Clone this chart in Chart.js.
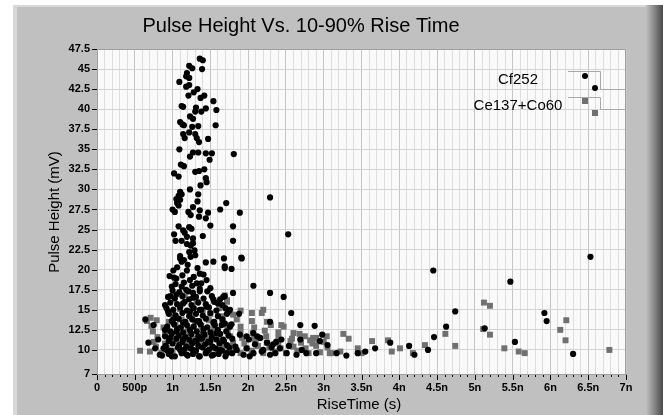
<!DOCTYPE html>
<html>
<head>
<meta charset="UTF-8">
<script src="https://cdn.jsdelivr.net/npm/chart.js"></script>
<style>
    html, body { margin: 0; padding: 0; background: #fff; }
    #wrap { width: 663px; height: 415px; }
</style>
</head>
<body>
<div id="wrap"><canvas id="riseChart" width="663" height="415"></canvas></div>
<script>
// series names, axis text
const seriesNames = ['Cf252', 'Ce137+Co60'];
const chartTitle = 'Pulse Height Vs. 10-90% Rise Time';
const xTitle = 'RiseTime (s)';
const yTitle = 'Pulse Height (mV)';

// tick values / labels (x in ns)
const yTicks = [7, 10, 12.5, 15, 17.5, 20, 22.5, 25, 27.5, 30, 32.5, 35, 37.5, 40, 42.5, 45, 47.5];
const xMajor = [0, 0.5, 1, 1.5, 2, 2.5, 3, 3.5, 4, 4.5, 5, 5.5, 6, 6.5, 7];
const xLabels = ['0', '500p', '1n', '1.5n', '2n', '2.5n', '3n', '3.5n', '4n', '4.5n', '5n', '5.5n', '6n', '6.5n', '7n'];

// Cf252 : [rise time ns, pulse height mV]
const cfColumn = [
    [1.36,46.3],[1.40,46.1],[1.22,45.4],[1.26,45.1],[1.39,45.0],[1.19,44.5],[1.18,44.1],[1.22,43.9],
    [1.09,43.4],[1.22,43.0],[1.18,42.8],[1.33,42.5],[1.28,42.1],[1.21,41.7],[1.42,41.7],[1.37,41.4],
    [1.54,41.0],[1.12,40.4],[1.14,40.3],[1.31,40.2],[1.44,40.1],[1.38,39.7],[1.58,39.9],[1.30,39.7],
    [1.23,39.1],[1.27,38.8],[1.10,38.4],[1.13,38.1],[1.15,38.0],[1.26,37.8],[1.34,37.9],[1.57,38.0],
    [1.14,36.9],[1.22,37.1],[1.30,36.9],[1.32,36.4],[1.16,36.4],[1.47,36.3],[1.35,35.9],[1.09,35.0],
    [1.27,34.6],[1.34,34.6],[1.44,34.5],[1.52,34.5],[1.81,34.4],[1.23,34.1],[1.49,33.7],[1.11,33.1],
    [1.15,32.9],[1.42,32.5],[1.35,32.3],[1.30,32.2],[1.02,32.0],[1.08,31.6],[1.44,31.4],[1.45,30.9],
    [1.37,30.5],[1.23,30.0],[1.10,29.7],[1.12,29.4],[1.08,29.2],[1.34,29.4],[1.05,28.8],[1.10,28.7],
    [1.33,28.5],[1.71,28.3],[1.06,28.3],[1.08,28.0],[1.27,27.8],[1.63,27.5],[1.00,27.5],[1.03,27.2],
    [1.36,27.4],[1.21,27.2],[1.24,26.8],[1.47,27.1],[1.89,27.1],[1.35,26.6],[1.44,26.4],[1.08,25.4],
    [1.22,25.3],[1.25,25.1],[1.50,25.5],[1.80,25.4],[1.14,24.9],[1.16,24.6],[1.02,24.4],[1.40,24.2],
    [1.19,24.1],[1.27,23.9],[1.04,23.6],[1.12,23.6],[1.80,23.6],[1.19,23.2],[1.24,23.0],[1.27,23.3],
    [1.29,22.4],[1.22,22.2],[1.10,21.7],[1.91,21.5],[2.29,29.0],[2.53,24.4]
];
const cfMiddle = [
    [1.10,21.4],[1.12,21.0],[1.30,21.8],[1.44,20.9],[1.54,21.0],[1.69,20.2],[1.01,19.9],[1.19,19.9],
    [1.36,19.5],[0.96,19.2],[1.05,18.9],[1.23,18.7],[1.45,18.7],[1.32,18.3],[0.99,17.9],[1.12,17.9],
    [1.50,17.7],[1.21,17.3],[1.36,17.3],[1.05,16.9],[0.97,16.7],[1.27,16.5],[1.54,16.3],[1.69,16.7],
    [0.90,15.6],[1.14,15.8],[1.45,15.4],[1.60,15.8],[0.94,14.8],[1.23,14.8],[1.36,15.0],[1.74,14.8],
    [0.64,13.8],[0.75,13.1],[1.01,13.8],[1.14,13.4],[1.32,13.6],[1.54,13.4],[1.65,13.1],[0.90,12.5],
    [1.05,12.3],[1.23,12.5],[1.41,12.1],[1.58,12.1],[0.68,10.9],[0.81,11.3],[0.97,11.5],[1.14,11.3],
    [1.32,11.1],[1.50,11.1],[1.67,11.3],[0.77,10.2],[0.92,10.0],[1.10,10.0],[1.27,10.0],[1.45,9.8],
    [1.63,10.0],[0.83,9.4],[0.99,9.2],[1.19,9.4],[1.36,9.2],[1.54,9.4],
    [1.68,21.4],[1.78,20.1],[1.69,20.4],[1.915,21.4],[2.07,18.0],[2.29,17.1],[2.47,16.6],[2.57,14.6],
    [2.69,13.1],[2.88,13.0],[2.29,13.5],[3.17,9.6],[1.67,16.6],[1.80,17.1],[1.76,15.0],[1.88,14.5],
    [1.69,13.3],[1.76,12.9],[1.89,11.9],[1.98,11.7],[2.07,12.1],[2.16,11.5],[2.25,10.9],[2.33,10.7],
    [2.09,10.7],[1.98,10.2],[1.85,10.0],[1.72,9.6],[2.18,9.8],[2.42,10.2],[2.51,9.6],[2.64,9.4],
    [2.77,9.6],[2.69,11.3],[2.07,9.6],[2.29,9.4],[1.94,9.4],[2.95,11.1],[2.44,11.3],[2.20,10.0]
];
const cfBottom = [
    [0.86,9.3],[0.95,9.5],[1.03,9.2],[1.12,9.6],[1.20,9.3],[1.27,9.5],[1.35,9.2],[1.44,9.6],
    [1.52,9.3],[1.61,9.5],[1.70,9.2],[1.79,9.6],[2.02,9.2],[2.36,9.6],[2.90,9.6],
    [0.88,10.2],[0.98,9.9],[1.07,10.3],[1.15,10.0],[1.24,10.2],[1.31,9.9],[1.40,10.3],[1.48,10.0],
    [1.57,10.2],[1.66,9.9],[1.75,10.3],[2.31,10.3],[2.71,10.0],
    [0.91,10.5],[1.00,10.8],[1.09,10.6],[1.18,10.4],[1.26,10.8],[1.34,10.5],[1.43,10.7],[1.53,10.4],
    [1.62,10.8],[1.72,10.6],[1.83,10.4],[2.54,10.5],
    [0.95,11.1],[1.05,11.4],[1.13,11.0],[1.22,11.3],[1.30,11.1],[1.39,11.4],[1.47,11.0],[1.58,11.3],
    [1.68,11.1],[1.79,11.4],[2.01,11.3],[2.37,11.0],
    [0.90,11.7],[0.99,12.0],[1.08,11.8],[1.17,11.6],[1.25,12.0],[1.34,11.7],[1.42,11.9],[1.52,11.6],
    [1.63,12.0],[1.74,11.8],[2.12,11.7],
    [0.97,12.3],[1.06,12.6],[1.14,12.2],[1.23,12.5],[1.32,12.3],[1.41,12.6],[1.50,12.2],[1.60,12.5],[1.71,12.3],
    [0.93,12.9],[1.02,13.2],[1.11,12.8],[1.19,13.1],[1.28,12.9],[1.37,13.2],[1.46,12.8],[1.56,13.1],[1.78,13.2],
    [0.99,13.6],[1.08,13.9],[1.17,13.5],[1.26,13.8],[1.35,13.6],[1.44,13.9],[1.55,13.5],[1.66,13.8],
    [0.95,14.5],[1.04,14.3],[1.13,14.6],[1.22,14.2],[1.31,14.5],[1.40,14.3],[1.50,14.6],[1.60,14.2],[1.72,14.5],
    [0.92,15.2],[1.01,15.0],[1.10,15.3],[1.19,14.9],[1.28,15.2],[1.38,15.0],[1.48,15.3],[1.58,14.9],[1.70,15.2],
    [0.97,15.9],[1.06,15.7],[1.16,16.0],[1.25,15.6],[1.34,15.9],[1.44,15.7],[1.55,16.0],[1.66,15.6],
    [0.94,16.6],[1.03,16.4],[1.13,16.7],[1.22,16.3],[1.31,16.6],[1.41,16.4],[1.52,16.7],[1.63,16.3],
    [1.00,17.4],[1.09,17.2],[1.18,17.5],[1.27,17.1],[1.36,17.6],[1.46,17.3],[1.04,18.2],[1.15,18.4],
    [1.26,18.0],[1.38,18.3],[1.02,19.0],[1.13,19.3],[1.28,19.1],[1.41,19.4],[1.06,20.3],[1.20,20.6],
    [1.33,20.2],[1.15,21.2],[1.24,21.6]
];
const cfFar = [
    [3.30,9.3],[3.45,9.6],[3.55,9.8],[3.68,10.2],[3.88,10.9],[4.13,10.5],[4.20,9.4],[4.38,10.0],
    [4.45,19.9],[4.46,11.6],[4.62,12.9],[4.74,14.8],[5.13,12.7],[5.47,18.5],[5.53,11.0],[5.92,14.6],
    [5.95,13.6],[6.30,9.5],[6.53,21.6],[2.98,11.9],[3.05,10.6]
];

// Ce137+Co60
const ceMain = [
    [0.70,9.8],[0.85,9.6],[1.00,9.9],[1.15,9.6],[1.30,9.8],[1.45,9.6],[1.60,9.9],[1.75,9.7],[1.90,9.6],
    [2.05,9.9],[2.20,9.6],[2.35,9.8],[2.50,9.6],[2.65,9.9],[2.80,9.6],[2.95,9.7],[3.10,9.6],[3.22,9.8],
    [0.78,10.4],[0.93,10.2],[1.08,10.5],[1.22,10.2],[1.38,10.4],[1.52,10.2],[1.67,10.5],[1.83,10.3],
    [1.98,10.2],[2.13,10.5],[2.28,10.3],[2.43,10.2],[2.60,10.4],[2.76,10.2],[2.90,10.5],[3.05,10.3],
    [0.75,11.0],[0.90,10.8],[1.05,11.1],[1.20,10.8],[1.35,11.0],[1.50,10.8],[1.65,11.1],[1.80,10.9],
    [1.95,10.8],[2.10,11.1],[2.25,10.9],[2.40,10.8],[2.56,11.1],[2.70,10.9],[2.85,10.8],[3.00,11.0],
    [0.80,11.6],[0.96,11.4],[1.12,11.7],[1.28,11.4],[1.44,11.6],[1.60,11.4],[1.76,11.7],[1.92,11.5],
    [2.08,11.4],[2.24,11.7],[2.40,11.5],[2.58,11.4],[2.75,11.7],[2.90,11.5],
    [0.74,12.3],[0.90,12.1],[1.06,12.4],[1.22,12.1],[1.40,12.3],[1.57,12.1],[1.73,12.4],[1.90,12.2],
    [2.06,12.1],[2.22,12.4],[2.40,12.2],[2.60,12.1],
    [0.72,13.0],[0.88,12.8],[1.04,13.1],[1.20,12.8],[1.38,13.0],[1.55,12.8],[1.72,13.1],[1.90,12.9],
    [2.08,12.8],[2.30,13.1],[2.47,12.9],
    [0.79,13.7],[0.95,13.5],[1.12,13.8],[1.30,13.5],[1.48,13.7],[1.66,13.5],[1.85,13.8],[2.05,13.6],[2.25,13.5],
    [0.71,14.0],[1.00,14.4],[1.25,14.2],[1.50,14.5],[1.66,14.2],[1.80,14.4],[2.05,14.6],[2.18,14.6],
    [1.10,15.1],[1.40,15.0],[1.62,15.2],[1.90,14.9],[2.20,15.0],
    [1.32,16.0],[1.72,16.2],[1.16,16.8],[1.69,16.8],[1.72,16.0]
];
const ceFar = [
    [2.44,13.1],[2.68,12.0],[2.82,11.2],[2.86,11.5],[2.93,11.1],[3.04,11.7],[3.26,12.0],[3.33,11.4],
    [3.08,9.6],[3.45,10.2],[3.50,9.6],[3.64,11.1],[3.85,11.2],[3.90,9.8],[4.01,10.2],[4.18,9.6],
    [4.34,10.6],[4.61,12.0],[4.74,10.5],[5.11,12.6],[5.20,11.9],[5.12,15.9],[5.20,15.5],[5.39,10.2],
    [5.58,9.8],[5.66,9.6],[6.13,12.5],[6.21,13.7],[6.20,11.2],[6.78,10.0],[0.57,9.9],[0.66,13.6]
];

const cfPoints = cfColumn.concat(cfMiddle, cfBottom, cfFar).map(p => ({ x: p[0], y: p[1] }));
const cePoints = ceMain.concat(ceFar).map(p => ({ x: p[0], y: p[1] }));

function isMajor(v) {
    return Math.abs(v * 2 - Math.round(v * 2)) < 1e-6;
}

const panel = {
    id: 'panel',
    beforeDraw(chart) {
        const c = chart.ctx, a = chart.chartArea;
        c.save();
        c.fillStyle = '#ffffff';
        c.fillRect(0, 0, 663, 415);
        c.fillStyle = '#c0c0c0';
        c.fillRect(13, 5, 650, 410);
        c.fillStyle = '#d8d8d8';
        c.fillRect(13, 5, 4, 410);
        c.fillRect(13, 5, 650, 2);
        const g = c.createLinearGradient(646, 0, 663, 0);
        g.addColorStop(0, '#c0c0c0');
        g.addColorStop(1, '#4a4a4a');
        c.fillStyle = g;
        c.fillRect(646, 5, 17, 410);
        c.fillStyle = '#fafafa';
        c.fillRect(a.left, a.top, a.right - a.left, a.bottom - a.top);
        c.restore();
    },
    afterDraw(chart) {
        const c = chart.ctx, a = chart.chartArea;
        const xs = chart.scales.x, ys = chart.scales.y;
        c.save();
        // frame
        c.strokeStyle = '#a0a0a0';
        c.lineWidth = 1;
        c.strokeRect(a.left + 0.5, a.top + 0.5, a.right - a.left - 1, a.bottom - a.top);
        // tick marks
        c.strokeStyle = '#000';
        c.beginPath();
        yTicks.forEach(v => {
            const y = Math.round(ys.getPixelForValue(v)) + 0.5;
            c.moveTo(a.left - 5, y); c.lineTo(a.left, y);
        });
        for (let i = 0; i <= 70; i++) {
            const v = i / 10;
            const x = Math.round(xs.getPixelForValue(v)) + 0.5;
            c.moveTo(x, a.bottom + 1); c.lineTo(x, a.bottom + (isMajor(v) ? 6 : 3));
        }
        c.stroke();
        // title + axis titles
        c.fillStyle = '#000';
        c.textAlign = 'center';
        c.textBaseline = 'alphabetic';
        c.font = '20px "Liberation Sans", Arial, sans-serif';
        c.fillText(chartTitle, 301, 32);
        c.font = '15px "Liberation Sans", Arial, sans-serif';
        c.fillText(xTitle, 359, 409);
        c.save();
        c.translate(59, 212);
        c.rotate(-Math.PI / 2);
        c.fillText(yTitle, 0, 0);
        c.restore();
        // legend
        c.font = '15px "Liberation Sans", Arial, sans-serif';
        c.fillText(seriesNames[0], 518, 84);
        c.fillText(seriesNames[1], 518, 110);
        c.strokeStyle = '#a8a8a8';
        c.beginPath();
        c.moveTo(568, 71.5); c.lineTo(600.5, 71.5); c.lineTo(600.5, 89.5); c.lineTo(626, 89.5);
        c.moveTo(568, 97.5); c.lineTo(600.5, 97.5); c.lineTo(600.5, 109.5); c.lineTo(626, 109.5);
        c.stroke();
        c.fillStyle = '#000';
        [[585, 76], [595, 88]].forEach(p => {
            c.beginPath(); c.arc(p[0], p[1], 3, 0, Math.PI * 2); c.fill();
        });
        c.fillStyle = '#707070';
        [[585, 101], [595, 113]].forEach(p => c.fillRect(p[0] - 3, p[1] - 3, 6, 6));
        c.restore();
    }
};

new Chart(document.getElementById('riseChart'), {
    type: 'scatter',
    data: {
        datasets: [{
            label: seriesNames[0],
            data: cfPoints,
            pointStyle: 'circle',
            pointRadius: 3.1,
            pointBorderWidth: 0,
            pointBackgroundColor: '#000000',
            order: 0
        }, {
            label: seriesNames[1],
            data: cePoints,
            pointStyle: 'rect',
            pointRadius: 4.2,
            pointBorderWidth: 0,
            pointBackgroundColor: '#707070',
            order: 1
        }]
    },
    options: {
        responsive: false,
        animation: false,
        events: [],
        layout: { padding: { top: 49, right: 37, left: 0, bottom: 0 } },
        plugins: { legend: { display: false }, tooltip: { enabled: false } },
        scales: {
            x: {
                type: 'linear', min: 0, max: 7,
                afterBuildTicks: s => {
                    const t = [];
                    for (let i = 0; i <= 70; i++) t.push({ value: i / 10 });
                    s.ticks = t;
                },
                afterFit: s => { s.height = 41; },
                ticks: {
                    autoSkip: false, maxRotation: 0, padding: 7, color: '#000',
                    font: { family: '"Liberation Sans", Arial, sans-serif', size: 11, weight: 'bold' },
                    callback: v => {
                        const i = xMajor.findIndex(m => Math.abs(m - v) < 1e-6);
                        return i >= 0 ? xLabels[i] : '';
                    }
                },
                grid: {
                    drawTicks: false,
                    color: c => (c.tick && isMajor(c.tick.value)) ? '#c6c6c6' : '#dedede'
                },
                border: { color: '#909090' }
            },
            y: {
                type: 'linear', min: 7, max: 47.5,
                afterBuildTicks: s => { s.ticks = yTicks.map(v => ({ value: v })); },
                afterFit: s => { s.width = 97; },
                ticks: {
                    autoSkip: false, padding: 7, color: '#000',
                    font: { family: '"Liberation Sans", Arial, sans-serif', size: 11, weight: 'bold' },
                    callback: v => String(v)
                },
                grid: { drawTicks: false, color: '#d4d4d4' },
                border: { color: '#909090' }
            }
        }
    },
    plugins: [panel]
});
</script>
</body>
</html>
